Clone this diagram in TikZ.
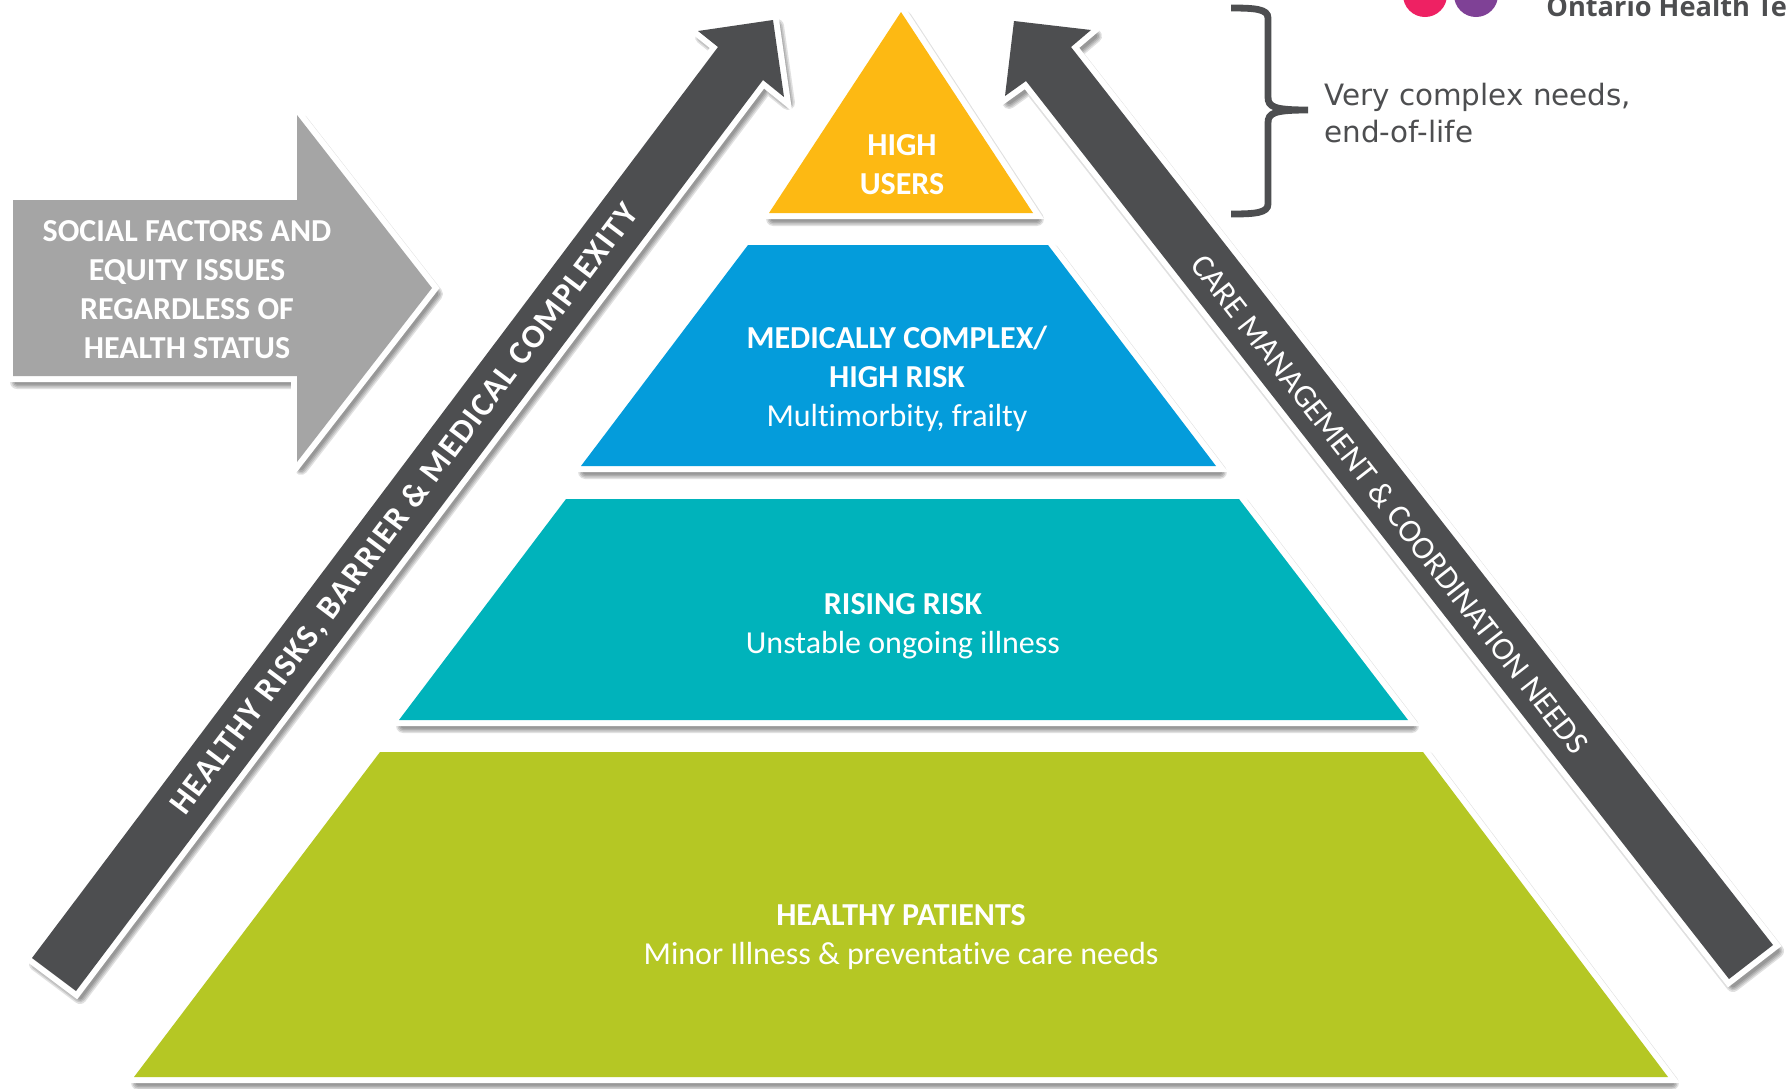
\documentclass[tikz,border=0pt]{standalone}
\usepackage{fontspec}
\setmainfont{Carlito}[Ligatures=NoCommon]
\newfontfamily\notefont{DejaVu Sans}
\newfontfamily\logofont{Open Sans}
\newfontfamily\widefont{Carlito}[LetterSpace=5,Ligatures=NoCommon]
\definecolor{darkgrey}{HTML}{4D4E50}
\definecolor{midgrey}{HTML}{A5A5A5}
\definecolor{tieryellow}{HTML}{FDB913}
\definecolor{tierblue}{HTML}{049CDB}
\definecolor{tierteal}{HTML}{00B3BB}
\definecolor{tiergreen}{HTML}{B5C724}
\definecolor{logopink}{HTML}{EE2163}
\definecolor{logopurple}{HTML}{7F4196}
\tikzset{
	shadowlayer/.style={preaction={draw=black,draw opacity=.12,line join=round,line width=#1*0.5pt,transform canvas={shift={(2pt,-3pt)}}}},
	panel/.style={shadowlayer=14,shadowlayer=11,shadowlayer=8,shadowlayer=5,preaction={draw=white,line width=6pt},fill=#1},
	tiertext/.style={text=white,align=center,font=\fontsize{16}{19.5}\selectfont},
	arrowtext/.style={text=white,font=\fontsize{16.3}{18}\selectfont},
}

\begin{document}
\begin{tikzpicture}[x=0.5pt,y=-0.5pt]
	\useasboundingbox (0,0) rectangle (1787,1088);
	\clip (0,0) rectangle (1787,1088);
	% logo, cut by the page
	\fill [logopink] (1425,-5) circle [radius=22];
	\fill [logopurple] (1476,-5) circle [radius=22];
	\node (logotext) [anchor=base west,inner sep=0,text=darkgrey,font=\logofont\bfseries\fontsize{13.6}{17}\selectfont] at (1546,16) {Ontario Health Te};
	% side arrows
	\path [panel=midgrey] (13,200) -- (297,200) -- (297,115) -- (432,288) -- (297,462) -- (297,376) -- (13,376) -- cycle;
	\path [panel=darkgrey] (32,958) -- (718,47) -- (698,31) -- (773,20) -- (784,97) -- (763,80) -- (76,991) -- cycle;
	\path [panel=darkgrey] (1773,945) -- (1071,47) -- (1091,30) -- (1014,21) -- (1005,96) -- (1026,81) -- (1729,979) -- cycle;
	% pyramid
	\path [panel=tieryellow] (901,12) -- (1033,213) -- (769,213) -- cycle;
	\path [panel=tierblue] (748,245) -- (1048,245) -- (1216,466) -- (581,466) -- cycle;
	\path [panel=tierteal] (566,499) -- (1239,499) -- (1408,720) -- (399,720) -- cycle;
	\path [panel=tiergreen] (380,752) -- (1423,752) -- (1668,1077) -- (134,1077) -- cycle;
	% brace
	\draw [darkgrey,line width=3.4pt] (1231,8) .. controls (1255,8) and (1268,9) .. (1268,18) -- (1268,97) .. controls (1268,107) and (1274,110) .. (1308,110) .. controls (1274,110) and (1268,113) .. (1268,123) -- (1268,204) .. controls (1268,213) and (1255,214) .. (1231,214);
	\node (needs) [anchor=west,align=left,text=darkgrey,inner sep=0,font=\notefont\fontsize{14.7}{18.2}\selectfont] at (1324,113) {Very complex needs,\\end-of-life};
	% labels
	\node (social) [tiertext,font=\bfseries\fontsize{16}{19.5}\selectfont] at (187,290) {SOCIAL FACTORS AND\\EQUITY ISSUES\\REGARDLESS OF\\HEALTH STATUS};
	\node (high) [tiertext,font=\bfseries\fontsize{16}{19.5}\selectfont] at (902,165) {HIGH\\USERS};
	\node (complex) [tiertext] at (897,379) {\textbf{MEDICALLY COMPLEX/}\\\textbf{HIGH RISK}\\Multimorbity, frailty};
	\node (rising) [tiertext] at (903,626) {\textbf{RISING RISK}\\Unstable ongoing illness};
	\node (healthy) [tiertext] at (901,937) {\textbf{HEALTHY PATIENTS}\\Minor Illness \& preventative care needs};
	\node (risks) [arrowtext,rotate=53,font=\widefont\bfseries\fontsize{16.6}{18}\selectfont] at (405,510) {HEALTHY RISKS, BARRIER \& MEDICAL COMPLEXITY};
	\node (care) [arrowtext,rotate=-52] at (1390,504) {CARE MANAGEMENT \& COORDINATION NEEDS};
\end{tikzpicture}
\end{document}
